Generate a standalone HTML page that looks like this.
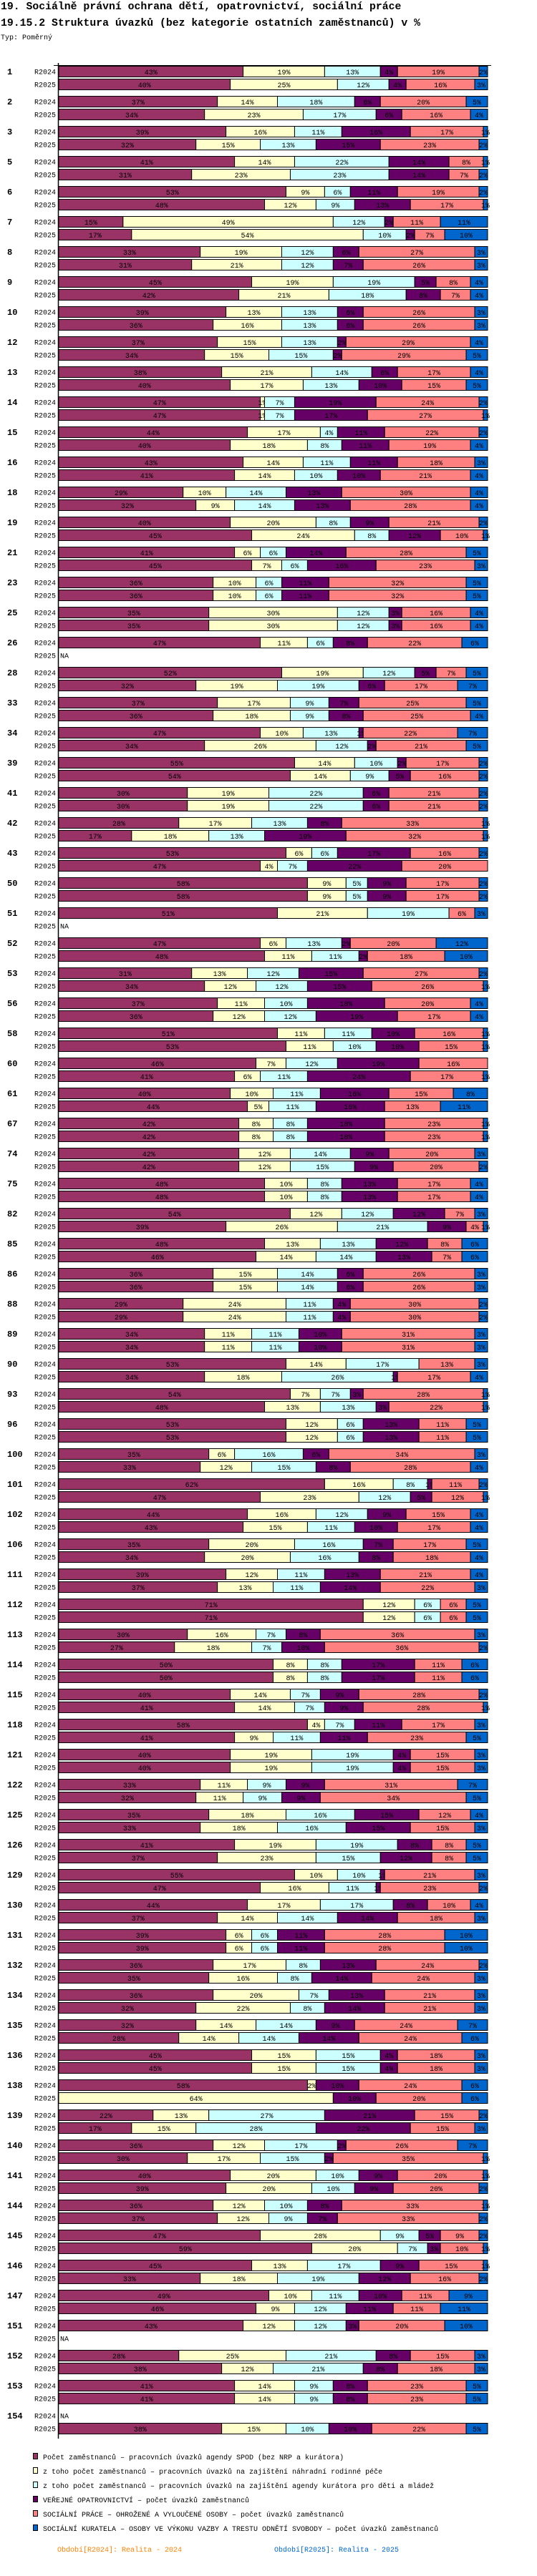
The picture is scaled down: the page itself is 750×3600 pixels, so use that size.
<!DOCTYPE html>
<html><head><meta charset="utf-8"><title>19.15.2 Struktura úvazků</title>
<style>
html,body{margin:0;padding:0;background:#fff;}
svg{display:block;}
text{font-family:"Liberation Mono",monospace;}
</style></head>
<body>
<svg id="chart" xmlns="http://www.w3.org/2000/svg" width="750" height="3600" viewBox="0 0 750 3600">
<text x="1" y="13" font-size="14.8" font-weight="bold">19. Sociálně právní ochrana dětí, opatrovnictví, sociální práce</text>
<text x="1" y="36" font-size="14.8" font-weight="bold">19.15.2 Struktura úvazků (bez kategorie ostatních zaměstnanců) v %</text>
<text x="1" y="55" font-size="10">Typ: Poměrný</text>
<g id="bars"></g>
<line x1="81.5" y1="88" x2="81.5" y2="3408" stroke="#000" stroke-width="1.5"/>
<line x1="75" y1="91.5" x2="686" y2="91.5" stroke="#000" stroke-width="1"/>
<g id="legend"></g>
<text x="80" y="3566" font-size="10" fill="#FF8000">Období[R2024]: Realita - 2024</text>
<text x="383" y="3566" font-size="10" fill="#0066CC">Období[R2025]: Realita - 2025</text>
</svg>
<script>
const groups = [1,2,3,5,6,7,8,9,10,12,13,14,15,16,18,19,21,23,25,26,28,33,34,39,41,42,43,50,51,52,53,56,58,60,61,67,74,75,82,85,86,88,89,90,93,96,100,101,102,106,111,112,113,114,115,118,121,122,125,126,129,130,131,132,134,135,136,138,139,140,141,144,145,146,147,151,152,153,154];
const values2024 = [
[43,19,13,4,19,2],[37,14,18,6,20,5],[39,16,11,16,17,1],[41,14,22,14,8,1],[53,9,6,11,19,2],[15,49,12,2,11,11],[33,19,12,6,27,3],[45,19,19,5,8,4],[39,13,13,6,26,3],
[37,15,13,2,29,4],[38,21,14,6,17,4],[47,1,7,19,24,2],[44,17,4,11,22,2],[43,14,11,11,18,3],[29,10,14,13,30,4],[40,20,8,9,21,2],[41,6,6,14,28,5],[36,10,6,11,32,5],[35,30,12,3,16,4],
[47,11,6,8,22,6],[52,19,12,5,7,5],[37,17,9,7,25,5],[47,10,13,1,22,7],[55,14,10,2,17,2],[30,19,22,6,21,2],[28,17,13,8,33,1],[53,6,6,17,16,2],[58,9,5,9,17,2],[51,21,19,0,6,3],
[47,6,13,2,20,12],[31,13,12,15,27,2],[37,11,10,18,20,4],[51,11,11,10,16,1],[46,7,12,19,16,0],[40,10,11,16,15,8],[42,8,8,18,23,1],[42,12,14,9,20,3],[48,10,8,13,17,4],[54,12,12,12,7,3],
[48,13,13,12,8,6],[36,15,14,6,26,3],[29,24,11,4,30,2],[34,11,11,10,31,3],[53,14,17,0,13,3],[54,7,7,3,28,1],[53,12,6,13,11,5],[35,6,16,6,34,3],[62,16,8,1,11,2],[44,16,12,9,15,4],
[35,20,16,7,17,5],[39,12,11,13,21,4],[71,12,6,0,6,5],[30,16,7,8,36,3],[50,8,8,17,11,6],[40,14,7,9,28,2],[58,4,7,11,17,3],[40,19,19,4,15,3],[33,11,9,9,31,7],[35,18,16,15,12,4],
[41,19,19,8,8,5],[55,10,10,1,21,3],[44,17,17,8,10,4],[39,6,6,11,28,10],[36,17,8,13,24,2],[36,20,7,13,21,3],[32,14,14,9,24,7],[45,15,15,4,18,3],[58,2,0,10,24,6],[22,13,27,21,15,2],
[36,12,17,2,26,7],[40,20,10,9,20,1],[36,12,10,8,33,1],[47,28,9,5,9,2],[45,13,17,9,15,1],[49,10,11,10,11,9],[43,12,12,3,20,10],[28,25,21,8,15,3],[41,14,9,8,23,5],null
];
const values2025 = [
[40,25,12,4,16,3],[34,23,17,6,16,4],[32,15,13,15,23,2],[31,23,23,14,7,2],[48,12,9,13,17,1],[17,54,10,2,7,10],[31,21,12,7,26,3],[42,21,18,8,7,4],[36,16,13,6,26,3],
[34,15,15,2,29,5],[40,17,13,10,15,5],[47,1,7,17,27,1],[40,18,8,11,19,4],[41,14,10,10,21,4],[32,9,14,13,28,4],[45,24,8,12,10,1],[45,7,6,16,23,3],[36,10,6,11,32,5],[35,30,12,3,16,4],
null,[32,19,19,6,17,7],[36,18,9,8,25,4],[34,26,12,2,21,5],[54,14,9,5,16,2],[30,19,22,6,21,2],[17,18,13,19,32,1],[47,4,7,22,20,0],[58,9,5,9,17,2],null,
[48,11,11,2,18,10],[34,12,12,15,26,1],[36,12,12,19,17,4],[53,11,10,10,15,1],[41,6,11,24,17,1],[44,5,11,16,13,11],[42,8,8,18,23,1],[42,12,15,9,20,2],[48,10,8,13,17,4],[39,26,21,9,4,1],
[46,14,14,13,7,6],[36,15,14,6,26,3],[29,24,11,4,30,2],[34,11,11,10,31,3],[34,18,26,1,17,4],[48,13,13,3,22,1],[53,12,6,13,11,5],[33,12,15,8,28,4],[47,23,12,5,12,1],[43,15,11,10,17,4],
[34,20,16,8,18,4],[37,13,11,14,22,3],[71,12,6,0,6,5],[27,18,7,10,36,2],[50,8,8,17,11,6],[41,14,7,9,28,1],[41,9,11,11,23,5],[40,19,19,4,15,3],[32,11,9,9,34,5],[33,18,16,15,15,3],
[37,23,15,12,8,5],[47,16,11,1,23,2],[37,14,14,14,18,3],[39,6,6,11,28,10],[35,16,8,14,24,3],[32,22,8,14,21,3],[28,14,14,14,24,6],[45,15,15,4,18,3],[0,64,0,10,20,6],[17,15,28,22,15,3],
[30,17,15,2,35,1],[39,20,10,9,20,2],[37,12,9,7,33,2],[59,20,7,3,10,1],[33,18,19,12,16,2],[46,9,12,11,11,11],null,[38,12,21,8,18,3],[41,14,9,8,23,5],[38,15,10,10,22,5]
];
const periods = ["R2024","R2025"];
const seriesNames = [
"Počet zaměstnanců – pracovních úvazků agendy SPOD (bez NRP a kurátora)",
"z toho počet zaměstnanců – pracovních úvazků na zajištění náhradní rodinné péče",
"z toho počet zaměstnanců – pracovních úvazků na zajištění agendy kurátora pro děti a mládež",
"VEŘEJNÉ OPATROVNICTVÍ – počet úvazků zaměstnanců",
"SOCIÁLNÍ PRÁCE – OHROŽENÉ A VYLOUČENÉ OSOBY – počet úvazků zaměstnanců",
"SOCIÁLNÍ KURATELA – OSOBY VE VÝKONU VAZBY A TRESTU ODNĚTÍ SVOBODY – počet úvazků zaměstnanců"
];
const colors = ["#993366","#FFFFCC","#CCFFFF","#660066","#FF8080","#0066CC"];

const NS = "http://www.w3.org/2000/svg";
const X0 = 82, BW = 599, TOP = 92, PITCH = 42, BH = 15, ROWGAP = 18;
function xScale(frac){ return X0 + frac*BW; }
function yRow(gi, pi){ return TOP + gi*PITCH + pi*ROWGAP; }
function mk(tag, attrs){ const e=document.createElementNS(NS,tag); for(const k in attrs) e.setAttribute(k,attrs[k]); return e; }

const barsG = document.getElementById("bars");
groups.forEach((g, gi) => {
  const lab = mk("text",{x:10,y:yRow(gi,0)+12,"font-size":12,"font-weight":"bold"});
  
  
  lab.textContent = String(g);
  barsG.appendChild(lab);
  [values2024, values2025].forEach((arr, pi) => {
    const y = yRow(gi, pi);
    const pl = mk("text",{x:48,y:y+11.5,"font-size":10});
    
    
    pl.textContent = periods[pi];
    barsG.appendChild(pl);
    const vals = arr[gi];
    if (!vals) {
      const na = mk("text",{x:84,y:y+11.5,"font-size":10});
      
      
      na.textContent = "NA";
      barsG.appendChild(na);
      return;
    }
    const sum = vals.reduce((a,b)=>a+b,0);
    let cum = 0;
    vals.forEach((v, si) => {
      if (v <= 0) return;
      const x1 = xScale(cum/sum), x2 = xScale((cum+v)/sum);
      cum += v;
      const r = mk("rect",{x:x1,y:y+0.5,width:x2-x1,height:BH,fill:colors[si],stroke:"#000","stroke-width":1});
      
      
      barsG.appendChild(r);
      const t = mk("text",{x:(x1+x2)/2,y:y+12,"font-size":10,"text-anchor":"middle",fill:"#000"});
      
      
      t.textContent = v + "%";
      barsG.appendChild(t);
    });
  });
});

const legG = document.getElementById("legend");
seriesNames.forEach((n, i) => {
  const y = 3437 + i*20;
  const sq = mk("rect",{x:46.5,y:y-8.5,width:6,height:8,fill:colors[i],stroke:"#000","stroke-width":1});
  
  
  legG.appendChild(sq);
  const t = mk("text",{x:60,y:y,"font-size":10});
  
  
  t.textContent = n;
  legG.appendChild(t);
});
</script>
</body></html>
